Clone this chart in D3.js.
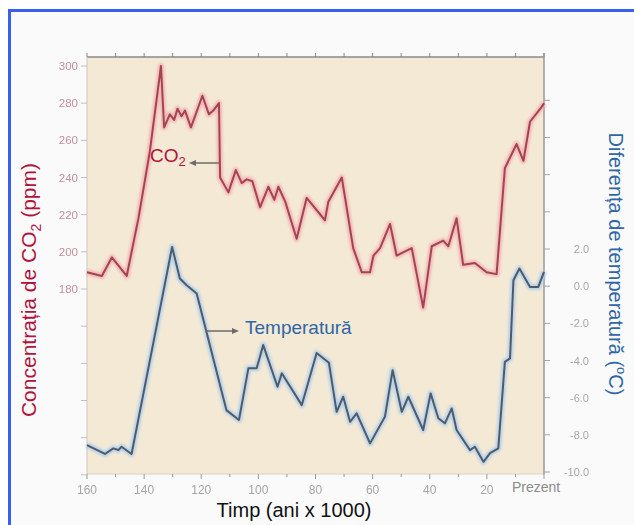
<!DOCTYPE html>
<html>
<head>
<meta charset="utf-8">
<script src="https://cdn.jsdelivr.net/npm/d3@7"></script>
<style>
  html, body { margin: 0; padding: 0; background: #ffffff; }
  svg { display: block; font-family: "Liberation Sans", Arial, sans-serif; }
</style>
</head>
<body>
<svg id="chart" width="634" height="525"></svg>
<script>
// ---- data (time in thousands of years before present) ----
const co2Time = [160, 154.8, 151.3, 146.1, 142, 138, 134.1, 133, 131, 129.5, 128.3, 126.9, 125.7, 123.6, 119.6, 117.3, 115.8, 113.8, 113.4, 110.5, 107.9, 105.8, 104.1, 102.1, 99.4, 96.5, 94.4, 93, 90.6, 86.6, 83.1, 76.7, 75.5, 70.8, 66.8, 63.8, 60.9, 59.7, 57.4, 53.9, 51.6, 46.3, 42.3, 39.3, 35.3, 33.5, 30.6, 28.3, 24.2, 20.1, 16.6, 13.7, 9.6, 7.2, 4.9, 0.8, 0];
const co2Value = [189, 187, 197, 187, 218, 254, 300, 267, 274, 271, 277, 273, 276, 267, 284, 274, 276, 280, 240, 232, 244, 237, 239, 238, 224, 235, 228, 235, 227, 207, 229, 217, 227, 240, 202, 189, 189, 198, 202, 215, 198, 202, 170, 203, 206, 203, 218, 193, 194, 189, 188, 245, 258, 249, 270, 278, 280];

const tempTime = [160, 153.7, 150.8, 149, 147.9, 144.4, 130.2, 127.5, 125.1, 121.6, 111.2, 106.8, 103.5, 100.6, 98.3, 93.3, 91.8, 84.8, 79.6, 75.3, 72.6, 70.3, 67.9, 65.6, 60.9, 55.7, 53, 49.8, 47.5, 42.3, 39.7, 37, 34.7, 32.3, 30.6, 25.9, 24.2, 21.2, 18.9, 16, 13.7, 11.9, 10.7, 8.6, 4.9, 2, 0];
const tempValue = [-8.55, -9.03, -8.73, -8.82, -8.64, -9.03, 2.11, 0.41, 0.05, -0.39, -6.67, -7.2, -4.42, -4.42, -3.17, -5.41, -4.69, -6.4, -3.6, -4.12, -6.76, -5.95, -7.3, -6.84, -8.46, -7.03, -4.52, -6.76, -5.95, -7.74, -5.77, -7.11, -7.38, -6.58, -7.74, -8.82, -8.64, -9.45, -8.99, -8.73, -4.07, -3.89, 0.32, 0.95, -0.04, -0.04, 0.77];

const xTicks = [160, 150, 140, 130, 120, 110, 100, 90, 80, 70, 60, 50, 40, 30, 20, 10, 0];
const xTickLabels = ["160", "140", "120", "100", "80", "60", "40", "20"];
const co2Ticks = [80, 100, 120, 140, 160, 180, 200, 220, 240, 260, 280, 300];
const co2TickLabels = ["180", "200", "220", "240", "260", "280", "300"];
const tempTicks = [-10, -8, -6, -4, -2, 0, 2, 4, 6, 8, 10];
const tempTickLabels = ["2.0", "0.0", "-2.0", "-4.0", "-6.0", "-8.0", "-10.0"];

const leftTitle = ["Concentrația de CO", "2", " (ppm)"];
const rightTitle = ["Diferența de temperatură (", "o", "C)"];
const bottomTitle = "Timp (ani x 1000)";
const co2Label = ["CO", "2"];
const tempLabel = "Temperatură";
const presentLabel = "Prezent";

// ---- layout ----
const svg = d3.select("#chart");
const plot = { left: 87, right: 544, top: 57, bottom: 474 };

const x = d3.scaleLinear().domain([160, 0]).range([plot.left, plot.right]);
const yC = d3.scaleLinear().domain([180, 300]).range([289, 66]);
const yT = d3.scaleLinear().domain([-10, 2]).range([472, 249]);

const defs = svg.append("defs");
defs.append("filter").attr("id", "soft")
  .append("feGaussianBlur").attr("stdDeviation", 0.45);
defs.append("filter").attr("id", "glow").attr("x", "-5%").attr("y", "-5%").attr("width", "110%").attr("height", "110%")
  .append("feGaussianBlur").attr("stdDeviation", 1.2);

// page frame
svg.append("rect").attr("x", 0).attr("y", 0).attr("width", 634).attr("height", 525).attr("fill", "#ffffff");
svg.append("rect").attr("x", 10).attr("y", 12).attr("width", 624).attr("height", 513).attr("fill", "#fafafa");
svg.append("line").attr("x1", 8).attr("x2", 634).attr("y1", 10.5).attr("y2", 10.5)
  .attr("stroke", "#3a5ef2").attr("stroke-width", 3);
svg.append("line").attr("x1", 9.5).attr("x2", 9.5).attr("y1", 9).attr("y2", 525)
  .attr("stroke", "#3a5ef2").attr("stroke-width", 3);

// plot background
svg.append("rect")
  .attr("x", plot.left).attr("y", plot.top)
  .attr("width", plot.right - plot.left).attr("height", plot.bottom - plot.top)
  .attr("fill", "#f3e9d5");

const axisG = svg.append("g").attr("filter", "url(#soft)");

// top axis line and ticks
axisG.append("line").attr("x1", plot.left).attr("x2", plot.right).attr("y1", plot.top).attr("y2", plot.top)
  .attr("stroke", "#8a8a8a").attr("stroke-width", 1.5);
axisG.selectAll(".ttick").data(xTicks).join("line")
  .attr("x1", d => x(d)).attr("x2", d => x(d))
  .attr("y1", plot.top).attr("y2", plot.top - 4)
  .attr("stroke", "#8a8a8a").attr("stroke-width", 1);

// bottom axis
axisG.append("line").attr("x1", plot.left).attr("x2", plot.right).attr("y1", plot.bottom).attr("y2", plot.bottom)
  .attr("stroke", "#d8d2c8").attr("stroke-width", 1);
axisG.selectAll(".btick").data(xTicks).join("line")
  .attr("x1", d => x(d)).attr("x2", d => x(d))
  .attr("y1", plot.bottom).attr("y2", d => plot.bottom + (d % 20 === 0 ? 5 : 3))
  .attr("stroke", "#9a9a9a").attr("stroke-width", 1);
axisG.selectAll(".blabel").data(xTickLabels).join("text")
  .attr("x", d => x(+d)).attr("y", 494)
  .attr("text-anchor", "middle").attr("font-size", 12).attr("fill", "#a5a5a5")
  .text(d => d);

// left axis
axisG.append("line").attr("x1", plot.left).attr("x2", plot.left).attr("y1", plot.top).attr("y2", plot.bottom)
  .attr("stroke", "#cfc6bb").attr("stroke-width", 1);
axisG.selectAll(".ltick").data(co2Ticks).join("line")
  .attr("x1", plot.left - 6).attr("x2", plot.left)
  .attr("y1", d => yC(d)).attr("y2", d => yC(d))
  .attr("stroke", "#c9b9bd").attr("stroke-width", 1);
axisG.selectAll(".llabel").data(co2TickLabels).join("text")
  .attr("x", 78).attr("y", d => yC(+d) + 4)
  .attr("text-anchor", "end").attr("font-size", 11.5).attr("fill", "#c5909d")
  .text(d => d);

// right axis
axisG.append("line").attr("x1", plot.right).attr("x2", plot.right).attr("y1", plot.top - 4).attr("y2", plot.bottom)
  .attr("stroke", "#9a9a9a").attr("stroke-width", 1.5);
axisG.selectAll(".rtick").data(tempTicks).join("line")
  .attr("x1", plot.right).attr("x2", plot.right + 6)
  .attr("y1", d => yT(d)).attr("y2", d => yT(d))
  .attr("stroke", "#a5a5a5").attr("stroke-width", 1);
axisG.selectAll(".rlabel").data(tempTickLabels).join("text")
  .attr("x", 589).attr("y", d => yT(+d) + 4)
  .attr("text-anchor", "end").attr("font-size", 11).attr("fill", "#a8a8a8")
  .text(d => d);

// lines
const co2Data = co2Time.map((t, i) => [t, co2Value[i]]);
const tempData = tempTime.map((t, i) => [t, tempValue[i]]);
const co2Line = d3.line().x(d => x(d[0])).y(d => yC(d[1]));
const tempLine = d3.line().x(d => x(d[0])).y(d => yT(d[1]));

svg.append("path").datum(co2Data).attr("d", co2Line)
  .attr("fill", "none").attr("stroke", "#f4a9b0").attr("stroke-width", 6)
  .attr("stroke-linejoin", "round").attr("opacity", 0.75).attr("filter", "url(#glow)");
svg.append("path").datum(tempData).attr("d", tempLine)
  .attr("fill", "none").attr("stroke", "#a9cdef").attr("stroke-width", 6)
  .attr("stroke-linejoin", "round").attr("opacity", 0.8).attr("filter", "url(#glow)");

svg.append("path").datum(co2Data).attr("d", co2Line)
  .attr("fill", "none").attr("stroke", "#a24550").attr("stroke-width", 2)
  .attr("stroke-linejoin", "round");
svg.append("path").datum(tempData).attr("d", tempLine)
  .attr("fill", "none").attr("stroke", "#505a68").attr("stroke-width", 2)
  .attr("stroke-linejoin", "round");

// annotations
const co2Txt = svg.append("text").attr("x", 150).attr("y", 162)
  .attr("font-size", 19).attr("fill", "#b3123b");
co2Txt.append("tspan").text(co2Label[0]);
co2Txt.append("tspan").attr("font-size", 13).attr("dy", 4).text(co2Label[1]);

svg.append("line").attr("x1", x(113.8)).attr("x2", 192).attr("y1", 163).attr("y2", 163)
  .attr("stroke", "#6f6a6a").attr("stroke-width", 1.5);
svg.append("path").attr("d", "M189,163 L196,160 L196,166 Z").attr("fill", "#6f6a6a");

svg.append("text").attr("x", 245).attr("y", 334)
  .attr("font-size", 19).attr("fill", "#2f67a6").text(tempLabel);
svg.append("line").attr("x1", 205).attr("x2", 236).attr("y1", 331).attr("y2", 331)
  .attr("stroke", "#6f6a6a").attr("stroke-width", 1.5);
svg.append("path").attr("d", "M239,331 L232,328 L232,334 Z").attr("fill", "#6f6a6a");

svg.append("text").attr("x", 536).attr("y", 492).attr("text-anchor", "middle")
  .attr("font-size", 14).attr("fill", "#8c8c8c").text(presentLabel);

// axis titles
const lt = svg.append("text")
  .attr("transform", "translate(36,290) rotate(-90)")
  .attr("text-anchor", "middle").attr("font-size", 21).attr("fill", "#b3123b");
lt.append("tspan").text(leftTitle[0]);
lt.append("tspan").attr("font-size", 14).attr("dy", 5).text(leftTitle[1]);
lt.append("tspan").attr("dy", -5).text(leftTitle[2]);

const rt = svg.append("text")
  .attr("transform", "translate(609,264) rotate(90)")
  .attr("text-anchor", "middle").attr("font-size", 20).attr("fill", "#2f67a6");
rt.append("tspan").text(rightTitle[0]);
rt.append("tspan").attr("font-size", 13).attr("dy", -8).text(rightTitle[1]);
rt.append("tspan").attr("dy", 8).text(rightTitle[2]);

svg.append("text").attr("x", 294).attr("y", 517).attr("text-anchor", "middle")
  .attr("font-size", 20).attr("fill", "#111111").text(bottomTitle);
</script>
</body>
</html>
